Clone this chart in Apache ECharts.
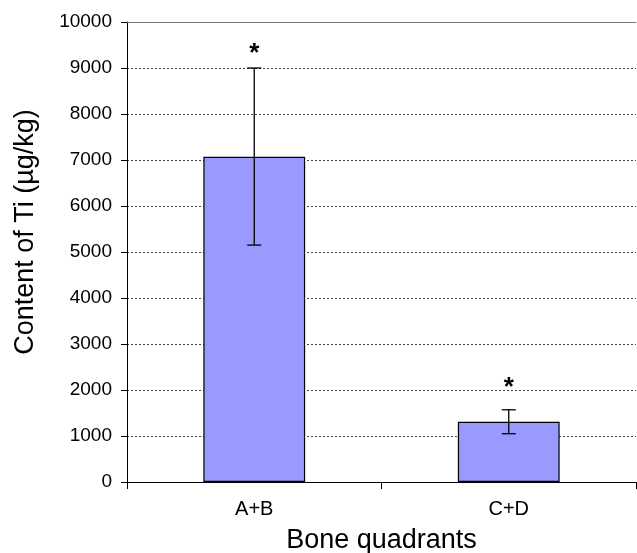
<!DOCTYPE html>
<html><head><meta charset="utf-8">
<script src="https://cdn.jsdelivr.net/npm/echarts@6/dist/echarts.min.js"></script>
<style>html,body{margin:0;padding:0;background:#fff}#c{width:637px;height:553px}</style>
</head><body><div id="c"></div>
<script>
const categories = ['A+B', 'C+D'];
const means = [7070, 1310];
const errLow = [5150, 1050];
const errHigh = [9000, 1570];
const sigMarks = ['*', '*'];
const sigY = [9430, 2170];
const yTicks = [0, 1000, 2000, 3000, 4000, 5000, 6000, 7000, 8000, 9000, 10000];

const font = '"Liberation Sans", Arial, sans-serif';
const chart = echarts.init(document.getElementById('c'));
chart.setOption({
  animation: false,
  backgroundColor: '#fff',
  grid: { left: 127, right: 1, top: 22, bottom: 71, outerBoundsMode: 'none', containLabel: false },
  xAxis: [{
    type: 'category', data: categories,
    axisLine: { lineStyle: { color: '#000', width: 1 } },
    axisTick: { show: true, length: 7, lineStyle: { color: '#000' } },
    axisLabel: { color: '#000', fontSize: 20, fontFamily: font, margin: 17 },
    name: 'Bone quadrants', nameLocation: 'middle', nameGap: 45,
    nameTextStyle: { color: '#000', fontSize: 27, fontFamily: font }
  }, {
    type: 'category', data: categories, position: 'top',
    axisLine: { show: true, lineStyle: { color: '#777', width: 1 } },
    axisTick: { show: false }, axisLabel: { show: false }
  }],
  yAxis: {
    type: 'value', min: yTicks[0], max: yTicks[yTicks.length - 1], interval: 1000,
    axisLine: { show: true, lineStyle: { color: '#000', width: 1 } },
    axisTick: { show: true, length: 6, lineStyle: { color: '#000' } },
    axisLabel: { color: '#000', fontSize: 19, fontFamily: font, margin: 15, formatter: v => String(v) },
    splitLine: { show: true, lineStyle: { color: '#444', type: [2, 2], width: 1 } },
    name: 'Content of Ti (µg/kg)', nameLocation: 'middle', nameGap: 88,
    nameTextStyle: { color: '#000', fontSize: 27, fontFamily: font, padding: [0, 0, 0, 40] }
  },
  series: [{
    type: 'bar', data: means, barWidth: '40%',
    itemStyle: { color: '#9999ff', borderColor: '#000', borderWidth: 1.2 }
  }, {
    type: 'custom',
    data: categories.map((c, i) => [i, errLow[i], errHigh[i], sigY[i]]),
    z: 10,
    renderItem: function (params, api) {
      const x = api.value(0);
      const lo = api.coord([x, api.value(1)]);
      const hi = api.coord([x, api.value(2)]);
      const sg = api.coord([x, api.value(3)]);
      const hw = 7;
      const st = { stroke: '#000', lineWidth: 1.3 };
      return {
        type: 'group',
        children: [
          { type: 'line', shape: { x1: lo[0], y1: lo[1], x2: hi[0], y2: hi[1] }, style: st },
          { type: 'line', shape: { x1: lo[0] - hw, y1: lo[1], x2: lo[0] + hw, y2: lo[1] }, style: st },
          { type: 'line', shape: { x1: hi[0] - hw, y1: hi[1], x2: hi[0] + hw, y2: hi[1] }, style: st },
          { type: 'text', style: { text: sigMarks[params.dataIndex], x: sg[0], y: sg[1] + 6,
              align: 'center', verticalAlign: 'middle', fontSize: 26, fontWeight: 'bold', fontFamily: font, fill: '#000' } }
        ]
      };
    }
  }]
});
</script></body></html>
